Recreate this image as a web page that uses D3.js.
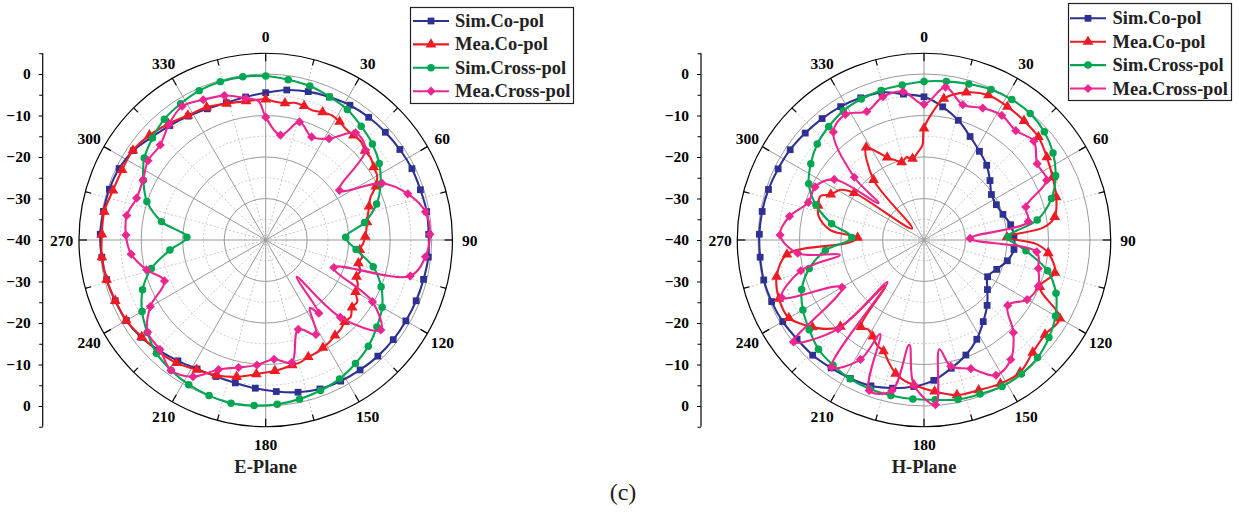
<!DOCTYPE html>
<html><head><meta charset="utf-8">
<script src="https://cdn.jsdelivr.net/npm/d3@7"></script>
<style>html,body{margin:0;padding:0;background:#fff;}svg{display:block;}</style>
</head><body>
<svg id="chart" width="1239" height="514"></svg>
<script>
// ---------- tick labels / categories ----------
const angleTicks = [0,30,60,90,120,150,180,210,240,270,300,330];
const dbTickLabels = [0,-10,-20,-30,-40];
const dbMinorTicks = [5,-5,-15,-25,-35];
const solidRings = [0,-10,-20,-30];
const dashedRings = [-5,-15,-25,-35];
const seriesNames = ["Sim.Co-pol","Mea.Co-pol","Sim.Cross-pol","Mea.Cross-pol"];
const planeTitles = ["E-Plane","H-Plane"];
const figLabel = "(c)";

// ---------- series values: [angle (deg), gain (dB)] ----------
const eSimCo = [[0,-4.5],[8,-3.5],[16,-2.8],[24,-2.3],[32,-1.7],[40,-1.4],[48,-1.2],[56,-1.0],[64,-0.8],[72,-0.8],[80,-0.6],[88,-0.7],[96,-0.6],[104,-0.8],[112,-0.9],[120,-1.0],[128,-1.0],[136,-1.1],[144,-1.3],[152,-1.5],[160,-1.8],[168,-2.5],[176,-3.4],[184,-4.2],[192,-4.8],[200,-5.0],[208,-4.8],[216,-4.0],[224,-3.0],[232,-1.9],[240,-1.2],[248,-0.9],[256,-0.5],[264,-0.3],[272,-0.1],[280,-0.3],[288,-0.4],[296,-0.7],[304,-1.5],[312,-3.0],[320,-4.0],[328,-4.8],[336,-5.4],[344,-5.6],[352,-5.2]];
const eMeaCo = [[0,-6.1],[4,-6.6],[8,-6.7],[12,-6.2],[16,-6.4],[20,-6.8],[24,-6.3],[28,-6.0],[32,-6.4],[36,-7.0],[40,-7.1],[44,-7.0],[48,-7.8],[52,-7.9],[56,-8.6],[60,-9.0],[64,-10.5],[68,-12.8],[72,-13.8],[76,-14.6],[80,-15.2],[84,-15.6],[88,-16.0],[92,-16.5],[96,-17.2],[100,-16.4],[104,-17.0],[108,-16.0],[112,-16.4],[116,-15.3],[120,-15.0],[124,-13.4],[128,-13.6],[132,-12.4],[136,-12.6],[140,-11.9],[144,-11.6],[148,-11.0],[152,-10.6],[156,-10.2],[160,-10.0],[164,-9.4],[168,-9.2],[172,-8.8],[176,-8.4],[184,-7.6],[192,-6.3],[200,-5.3],[208,-4.6],[216,-3.4],[224,-2.7],[232,-2.1],[240,-1.2],[248,-0.9],[256,-0.5],[264,-0.3],[272,-0.5],[280,-0.5],[288,-1.3],[296,-1.5],[304,-1.4],[312,-2.3],[320,-3.5],[328,-4.6],[336,-5.0],[344,-5.8],[352,-6.2]];
const eSimCross = [[0,-0.5],[8,-1.0],[16,-1.4],[24,-2.2],[32,-2.9],[40,-4.2],[48,-5.4],[56,-7.0],[64,-9.2],[72,-11.9],[80,-15.8],[88,-20.7],[96,-18.1],[104,-13.3],[112,-10.0],[120,-7.6],[128,-6.0],[136,-4.4],[144,-3.2],[152,-2.1],[160,-1.4],[168,-0.8],[176,-0.3],[184,0],[192,0.2],[200,-0.1],[208,-0.5],[216,-1.2],[224,-2.1],[232,-3.8],[240,-5.6],[248,-8.0],[256,-11.6],[264,-16.8],[272,-21.0],[280,-14.5],[288,-9.9],[296,-7.2],[304,-4.7],[312,-3.3],[320,-2.0],[328,-1.3],[336,-0.6],[344,-0.3],[352,-0.3]];
const eMeaCross = [[0,-10.4],[8,-14.5],[16,-10.4],[24,-12.8],[32,-11.2],[40,-6.3],[48,-7.6],[56,-18.6],[64,-8.8],[72,-4.0],[80,-0.9],[88,-0.4],[96,-1.3],[104,-4.1],[112,-22.3],[120,-10.3],[128,-4.8],[136,-14.1],[140,-28.4],[144,-18.2],[147,-20.5],[152,-14.2],[160,-17.1],[168,-9.8],[176,-11.2],[184,-9.8],[192,-8.6],[200,-6.8],[208,-2.7],[216,-1.2],[224,-3.3],[232,-3.9],[240,-7.9],[248,-13.7],[256,-10.4],[264,-7.4],[272,-6.3],[280,-6.0],[288,-7.3],[296,-7.1],[304,-5.8],[312,-5.8],[320,-3.7],[328,-2.0],[336,-3.0],[344,-3.8],[352,-5.5],[357,-6.5]];

const hSimCo = [[0,-5.5],[8,-7.6],[16,-10.0],[24,-12.7],[32,-14.8],[40,-16.5],[48,-18.6],[56,-20.4],[64,-20.6],[72,-20.0],[80,-18.8],[88,-18.3],[96,-18.2],[104,-19.3],[112,-21.1],[120,-22.3],[128,-20.6],[136,-18.1],[144,-15.7],[152,-12.9],[160,-10.5],[168,-8.4],[176,-6.1],[184,-4.6],[192,-3.5],[200,-2.6],[208,-2.2],[216,-1.9],[224,-1.4],[232,-1.2],[240,-0.7],[248,-0.4],[256,-0.2],[264,-0.3],[272,-0.3],[280,-0.4],[288,-0.6],[296,-0.9],[304,-1.1],[312,-1.5],[320,-1.8],[328,-2.1],[336,-2.5],[344,-3.0],[352,-4.5]];
const hMeaCo = [[0,-13.1],[4,-9.0],[8,-5.6],[16,-3.0],[24,-1.8],[32,-2.1],[40,-2.5],[48,-2.9],[56,-4.3],[64,-5.5],[72,-6.5],[80,-8.0],[84,-11.0],[88,-20.0],[92,-13.0],[96,-9.9],[104,-7.5],[112,-9.9],[120,-2.2],[128,-3.0],[136,-2.3],[144,-0.6],[152,-0.8],[160,-1.5],[168,-1.8],[176,-3.4],[184,-5.0],[188,-5.8],[192,-7.1],[196,-9.3],[200,-11.5],[204,-12.2],[208,-13.7],[212,-14.6],[216,-14.1],[220,-25.6],[224,-11.0],[228,-8.0],[232,-5.9],[236,-4.0],[240,-2.4],[248,-2.3],[256,-3.4],[264,-6.8],[268,-22.0],[272,-24.0],[276,-17.3],[283,-13.9],[288,-13.2],[293,-12.9],[296,-15.0],[301,-16.5],[304,-19.7],[314,-36.0],[320,-21.1],[328,-13.7],[332,-16.0],[336,-18.2],[340,-19.5],[344,-20.5],[348,-19.6],[352,-20.2],[356,-18.8],[359,-17.2]];
const hSimCross = [[0,-1.8],[8,-1.4],[16,-0.9],[24,-0.3],[32,-0.1],[40,-0.2],[48,-1.0],[56,-2.5],[64,-4.7],[72,-7.7],[80,-12.3],[88,-19.7],[96,-15.3],[104,-9.3],[112,-5.7],[120,-3.4],[128,-1.8],[136,-0.6],[144,-0.1],[152,0],[160,-0.5],[168,-0.7],[176,-1.4],[184,-1.6],[192,-1.7],[200,-1.8],[208,-2.1],[216,-2.7],[224,-3.4],[232,-4.9],[240,-6.3],[248,-8.2],[256,-11.5],[264,-16.1],[272,-22.6],[280,-17.4],[288,-12.6],[296,-9.1],[304,-7.1],[312,-5.4],[320,-4.3],[328,-3.3],[336,-2.8],[344,-2.5],[352,-2.3]];
const hMeaCross = [[0,-7.3],[8,-2.8],[16,-6.1],[24,-5.2],[32,-4.6],[40,-5.6],[48,-4.4],[56,-7.1],[64,-7.1],[72,-14.2],[80,-14.5],[88,-28.9],[96,-12.7],[104,-11.6],[112,-10.3],[120,-11.3],[128,-14.4],[136,-9.0],[144,-4.4],[152,-3.1],[160,-7.0],[168,-8.9],[172,-13.4],[176,-0.2],[184,-5.0],[188,-14.5],[192,-2.9],[200,-1.4],[205,-15.0],[208,-7.4],[216,-2.1],[221,-26.6],[224,-10.2],[232,-0.1],[240,-17.2],[248,-3.0],[256,-9.4],[260,-19.4],[264,-9.4],[272,-5.3],[280,-7.1],[288,-10.7],[296,-10.8],[304,-13.9],[309,-25.9],[312,-17.4],[320,-6.0],[328,-4.3],[336,-6.1],[344,-4.1],[352,-3.9]];

// ---------- styling ----------
const colors = ["#2e3192","#ed1c24","#00a651","#ec268f"];
const symbols = [d3.symbolSquare, d3.symbolTriangle, d3.symbolCircle, d3.symbolSquare];
const symSizes = [46, 50, 44, 42];
const symRot = [0, 0, 0, 45];
const FONT = "'Liberation Serif','Times New Roman',serif";

const svg = d3.select("#chart");
const R = 186.75;
const rScale = d3.scaleLinear().domain([-40, 5]).range([0, R]).clamp(true);
const rad = a => a * Math.PI / 180;
const px = (a, r) => r * Math.sin(rad(a));
const py = (a, r) => -r * Math.cos(rad(a));

function drawPlot(cx, cy, series, title, leg) {
  const g = svg.append("g").attr("transform", `translate(${cx},${cy})`);
  g.selectAll("circle.dr").data(dashedRings).join("circle").attr("class","dr")
    .attr("r", d => rScale(d)).attr("fill","none").attr("stroke","#c2c2c2")
    .attr("stroke-width",0.9).attr("stroke-dasharray","2,2");
  const spokes = d3.range(0, 360, 15);
  g.selectAll("line.sp").data(spokes.filter(a => a % 30 !== 0)).join("line").attr("class","sp")
    .attr("x1",0).attr("y1",0).attr("x2", a => px(a,R)).attr("y2", a => py(a,R))
    .attr("stroke","#c2c2c2").attr("stroke-width",0.9).attr("stroke-dasharray","2,2");
  g.selectAll("line.ss").data(spokes.filter(a => a % 30 === 0)).join("line").attr("class","ss")
    .attr("x1",0).attr("y1",0).attr("x2", a => px(a,R)).attr("y2", a => py(a,R))
    .attr("stroke","#9a9a9a").attr("stroke-width",1);
  g.selectAll("circle.sr").data(solidRings).join("circle").attr("class","sr")
    .attr("r", d => rScale(d)).attr("fill","none").attr("stroke","#9a9a9a").attr("stroke-width",1);
  g.append("circle").attr("r", R).attr("fill","none").attr("stroke","#000").attr("stroke-width",1.2);
  g.selectAll("line.ot").data(spokes).join("line").attr("class","ot")
    .attr("x1", a => px(a,R)).attr("y1", a => py(a,R))
    .attr("x2", a => px(a, R - (a % 30 === 0 ? 8 : 6))).attr("y2", a => py(a, R - (a % 30 === 0 ? 8 : 6)))
    .attr("stroke","#000").attr("stroke-width",1.2);
  g.selectAll("text.al").data(angleTicks).join("text").attr("class","al")
    .attr("x", a => px(a, 204)).attr("y", a => py(a, 204))
    .attr("text-anchor","middle").attr("dominant-baseline","central")
    .attr("font-family",FONT).attr("font-weight","bold").attr("font-size",15.5)
    .text(a => a);

  const line = d3.lineRadial().angle(d => rad(d[0])).radius(d => rScale(d[1]))
    .curve(d3.curveCatmullRomClosed.alpha(0.5));
  series.forEach((s, i) => {
    g.append("path").attr("d", line(s)).attr("fill","none")
      .attr("stroke", colors[i]).attr("stroke-width",2.1).attr("stroke-linejoin","round");
    const sym = d3.symbol().type(symbols[i]).size(symSizes[i]);
    g.selectAll(null).data(s.filter(d => d[0] % 8 === 0)).join("path")
      .attr("d", sym)
      .attr("transform", d => `translate(${px(d[0], rScale(d[1]))},${py(d[0], rScale(d[1]))}) rotate(${symRot[i]})`)
      .attr("fill", colors[i]);
  });

  const ax = svg.append("g").attr("transform", `translate(${cx - 223},0)`);
  const yTop = d3.scaleLinear().domain([-40, 5]).range([cy, cy - R]);
  const yBot = d3.scaleLinear().domain([-40, 5]).range([cy, cy + R]);
  const fmt = d3.format("d");
  const styleAxis = sel => {
    sel.select(".domain").remove();
    sel.selectAll("line").attr("stroke","#000").attr("stroke-width",1);
    sel.selectAll("text").attr("font-family",FONT).attr("font-weight","bold")
      .attr("font-size",15.5).attr("fill","#000");
  };
  ax.append("g").call(d3.axisLeft(yTop).tickValues(dbTickLabels).tickFormat(fmt).tickSize(4).tickPadding(8)).call(styleAxis);
  ax.append("g").call(d3.axisLeft(yBot).tickValues(dbTickLabels.filter(d => d !== -40)).tickFormat(fmt).tickSize(4).tickPadding(8)).call(styleAxis);
  ax.append("g").call(d3.axisLeft(yTop).tickValues(dbMinorTicks).tickFormat("").tickSize(3.5)).call(styleAxis);
  ax.append("g").call(d3.axisLeft(yBot).tickValues(dbMinorTicks).tickFormat("").tickSize(3.5)).call(styleAxis);
  ax.append("line").attr("x1",0).attr("x2",0).attr("y1", cy - R).attr("y2", cy + R)
    .attr("stroke","#000").attr("stroke-width",1.2);

  svg.append("text").attr("x", cx).attr("y", 472.5).attr("text-anchor","middle")
    .attr("font-family",FONT).attr("font-weight","bold").attr("font-size",18.5).attr("fill","#222")
    .text(title);

  const lg = svg.append("g").attr("transform", `translate(${leg.x},${leg.y})`);
  lg.append("rect").attr("x",0.5).attr("y",0.5).attr("width", leg.w).attr("height", leg.h)
    .attr("fill","#fff").attr("stroke","#222").attr("stroke-width",1.2);
  seriesNames.forEach((name, i) => {
    const yy = leg.row0 + i * leg.dy;
    lg.append("line").attr("x1", leg.lx1).attr("x2", leg.lx2).attr("y1", yy).attr("y2", yy)
      .attr("stroke", colors[i]).attr("stroke-width",2.1);
    lg.append("path").attr("d", d3.symbol().type(symbols[i]).size(symSizes[i])())
      .attr("transform", `translate(${(leg.lx1 + leg.lx2) / 2},${yy}) rotate(${symRot[i]})`)
      .attr("fill", colors[i]);
    lg.append("text").attr("x", leg.tx).attr("y", yy + 6)
      .attr("font-family",FONT).attr("font-weight","bold").attr("font-size",18.5).attr("fill","#222")
      .text(name);
  });
}

drawPlot(265.7, 240, [eSimCo, eMeaCo, eSimCross, eMeaCross], planeTitles[0],
  {x:410, y:7, w:163, h:96, row0:14, dy:23.4, lx1:3, lx2:39, tx:45});
drawPlot(924, 240, [hSimCo, hMeaCo, hSimCross, hMeaCross], planeTitles[1],
  {x:1068, y:3, w:163, h:97, row0:15.3, dy:23.4, lx1:2, lx2:38, tx:44.5});

svg.append("text").attr("x", 623).attr("y", 500).attr("text-anchor","middle")
  .attr("font-family",FONT).attr("font-size",24).attr("fill","#222").text(figLabel);
</script>
</body></html>
